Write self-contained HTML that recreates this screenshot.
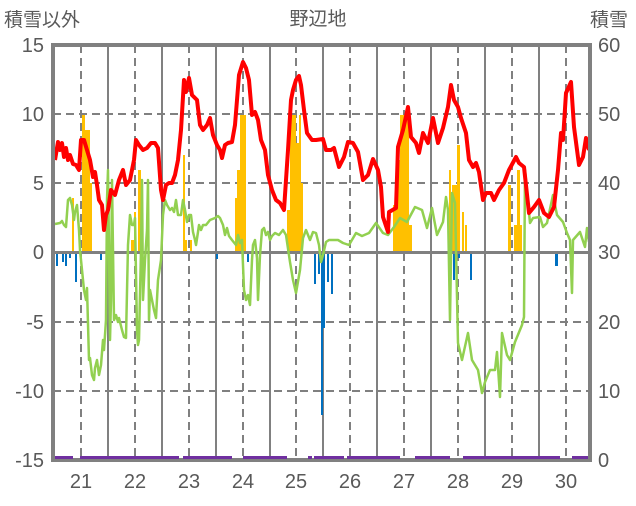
<!DOCTYPE html>
<html><head><meta charset="utf-8"><style>
body{margin:0;background:#fff;}
svg text{font-family:"Liberation Sans","Noto Sans CJK JP",sans-serif;fill:#595959;}
</style></head><body>
<svg width="636" height="501" viewBox="0 0 636 501" xmlns="http://www.w3.org/2000/svg">
<rect width="636" height="501" fill="#fff"/>
<g stroke="#808080" stroke-width="2" stroke-dasharray="8,5">
<line x1="53" y1="114" x2="590" y2="114"/><line x1="53" y1="183" x2="590" y2="183"/>
<line x1="53" y1="322" x2="590" y2="322"/><line x1="53" y1="391" x2="590" y2="391"/>
</g>
<g stroke="#808080" stroke-width="2" stroke-dasharray="8,5">
<line x1="81" y1="45" x2="81" y2="460"/><line x1="135" y1="45" x2="135" y2="460"/>
<line x1="189" y1="45" x2="189" y2="460"/><line x1="243" y1="45" x2="243" y2="460"/>
<line x1="296" y1="45" x2="296" y2="460"/><line x1="350" y1="45" x2="350" y2="460"/>
<line x1="404" y1="45" x2="404" y2="460"/><line x1="458" y1="45" x2="458" y2="460"/>
<line x1="512" y1="45" x2="512" y2="460"/><line x1="566" y1="45" x2="566" y2="460"/>
</g>
<g stroke="#808080" stroke-width="2">
<line x1="108" y1="45" x2="108" y2="460"/><line x1="162" y1="45" x2="162" y2="460"/>
<line x1="216" y1="45" x2="216" y2="460"/><line x1="270" y1="45" x2="270" y2="460"/>
<line x1="323" y1="45" x2="323" y2="460"/><line x1="377" y1="45" x2="377" y2="460"/>
<line x1="431" y1="45" x2="431" y2="460"/><line x1="485" y1="45" x2="485" y2="460"/>
<line x1="539" y1="45" x2="539" y2="460"/>
</g>
<g fill="#FFC000">
<rect x="72" y="198" width="2" height="54"/><rect x="82" y="115" width="3" height="137"/><rect x="85" y="130" width="3" height="122"/><rect x="88" y="130" width="2" height="122"/><rect x="90" y="183" width="2" height="69"/>
<rect x="131" y="240" width="3" height="12"/><rect x="134" y="212" width="2" height="40"/><rect x="138" y="170" width="3" height="82"/>
<rect x="183" y="155" width="2" height="97"/><rect x="185" y="240" width="2" height="12"/><rect x="190" y="240" width="2" height="12"/>
<rect x="235" y="198" width="2" height="54"/><rect x="237" y="170" width="3" height="82"/><rect x="240" y="115" width="6" height="137"/>
<rect x="287" y="210" width="3" height="42"/><rect x="290" y="115" width="6" height="137"/><rect x="296" y="143" width="3" height="109"/><rect x="299" y="115" width="2" height="137"/><rect x="301" y="183" width="2" height="69"/>
<rect x="393" y="205" width="4" height="47"/><rect x="397" y="160" width="3" height="92"/><rect x="400" y="115" width="9" height="137"/><rect x="409" y="225" width="3" height="27"/>
<rect x="449" y="170" width="2" height="82"/><rect x="452" y="185" width="2" height="67"/><rect x="454" y="185" width="3" height="67"/><rect x="457" y="145" width="3" height="107"/><rect x="462" y="212" width="2" height="40"/><rect x="465" y="225" width="2" height="27"/>
<rect x="508" y="185" width="3" height="67"/><rect x="514" y="225" width="3" height="27"/><rect x="517" y="170" width="3" height="82"/><rect x="520" y="225" width="2" height="27"/>
</g>
<g fill="#0070C0">
<rect x="56" y="252" width="2" height="14"/><rect x="62" y="252" width="2" height="10"/><rect x="65" y="252" width="2" height="14"/><rect x="69" y="252" width="2" height="6"/><rect x="75" y="252" width="2" height="30"/>
<rect x="100" y="252" width="2" height="8"/><rect x="216" y="252" width="2" height="7"/><rect x="247" y="252" width="2" height="10"/><rect x="256" y="252" width="2" height="6"/>
<rect x="314" y="252" width="2" height="32"/><rect x="318" y="252" width="2" height="22"/><rect x="321" y="252" width="2" height="163"/><rect x="323" y="252" width="2" height="76"/><rect x="327" y="252" width="2" height="30"/><rect x="331" y="252" width="2" height="42"/>
<rect x="453" y="252" width="2" height="28"/><rect x="458" y="252" width="2" height="6"/><rect x="470" y="252" width="2" height="28"/><rect x="555" y="252" width="3" height="14"/>
</g>
<line x1="53" y1="252.5" x2="590" y2="252.5" stroke="#808080" stroke-width="3"/>
<polyline fill="none" stroke="#92D050" stroke-width="2.5" stroke-linejoin="round" points="55,224 60,223 62,221 64,225 66,227 68,200 70,198 72,205 74,220 75,212 77,205 79,230 80,250 82,270 84,290 86,300 87,288 89,360 90,358 92,375 94,380 95,368 97,360 99,375 101,365 103,340 104,350 106,320 107,200 108,170 109,250 110,340 111,300 112,180 114,320 116,315 118,322 119,318 122,330 124,337 126,338 128,245 130,215 132,225 134,225 135,218 137,330 138,345 139,340 141,250 142,180 143,300 145,260 147,230 148,180 149,320 150,290 152,300 154,310 156,318 158,280 161,260 163,215 165,200 167,205 170,210 172,208 174,212 176,200 178,215 181,215 183,200 185,210 187,222 189,215 191,215 193,232 195,240 196,245 198,232 199,225 201,230 203,225 206,225 210,220 215,218 218,216 220,218 223,225 225,235 227,228 229,236 232,240 236,245 238,235 240,243 242,240 244,290 246,300 248,295 250,305 252,260 253,245 255,240 257,258 258,300 260,255 262,230 264,228 266,235 268,232 270,240 272,236 275,233 279,235 283,230 286,235 290,262 293,280 296,293 300,270 303,238 306,230 310,240 313,232 316,233 319,245 321,262 323,255 326,242 329,240 333,240 338,240 343,243 349,245 356,233 362,236 369,233 376,223 383,233 388,235 394,227 400,218 407,222 415,207 422,210 427,228 432,208 437,235 443,222 446,197 448,210 450,320 452,193 455,203 458,343 462,360 468,333 472,360 478,370 482,393 485,382 490,370 495,370 497,352 500,397 502,333 507,355 510,360 515,342 522,325 524,317 525,170 530,223 533,218 540,217 543,227 547,223 553,195 557,215 563,222 567,233 570,240 572,293 573,240 580,232 585,247 587,228 589,242"/>
<polyline fill="none" stroke="#FF0000" stroke-width="4" stroke-linejoin="round" points="55,160 58,142 60,150 62,143 64,157 66,148 68,160 70,155 73,164 76,165 79,170 81,140 84,140 87,150 90,160 93,177 95,172 97,185 99,200 102,205 104,230 106,215 108,210 111,190 115,195 119,180 123,170 126,185 130,180 134,160 136,140 139,145 143,150 147,148 151,143 155,143 158,148 161,190 163,200 166,185 169,183 172,183 175,175 178,160 181,130 184,80 186,92 189,78 192,95 197,100 200,125 203,130 207,125 210,118 213,135 217,145 220,150 222,158 225,145 228,143 232,142 235,125 239,75 243,62 246,68 249,80 252,115 255,112 258,120 261,140 265,150 268,175 272,190 276,200 280,203 284,210 288,150 291,100 293,90 296,80 299,76 301,85 304,110 307,133 312,140 316,140 323,139 326,150 331,150 334,148 339,167 344,157 348,142 353,143 358,152 363,180 368,175 373,159 378,170 381,187 383,217 388,232 389,212 396,208 398,147 403,130 408,107 411,137 416,143 419,153 423,133 428,143 433,118 438,143 443,128 448,107 451,85 454,100 458,107 461,118 466,133 469,160 473,167 476,163 479,172 483,200 486,193 491,193 494,200 499,190 504,183 509,170 516,157 519,163 524,167 529,213 534,207 539,200 544,213 549,217 554,207 558,170 561,133 563,140 566,93 571,82 574,127 579,165 583,157 586,138 589,150"/>
<rect x="53" y="45" width="537" height="415" fill="none" stroke="#808080" stroke-width="4"/>
<g stroke="#7030A0" stroke-width="3">
<line x1="55" y1="457.5" x2="73" y2="457.5"/><line x1="80" y1="457.5" x2="179" y2="457.5"/><line x1="183" y1="457.5" x2="232" y2="457.5"/>
<line x1="243" y1="457.5" x2="287" y2="457.5"/><line x1="308" y1="457.5" x2="312" y2="457.5"/><line x1="314" y1="457.5" x2="344" y2="457.5"/>
<line x1="347" y1="457.5" x2="400" y2="457.5"/><line x1="415" y1="457.5" x2="450" y2="457.5"/><line x1="463" y1="457.5" x2="560" y2="457.5"/><line x1="572" y1="457.5" x2="588" y2="457.5"/>
</g>
<g font-size="20" text-anchor="end">
<text x="44" y="52">15</text><text x="44" y="121">10</text><text x="44" y="190">5</text><text x="44" y="259">0</text>
<text x="44" y="329">-5</text><text x="44" y="398">-10</text><text x="44" y="467">-15</text>
</g>
<g font-size="20" text-anchor="start">
<text x="598" y="52">60</text><text x="598" y="121">50</text><text x="598" y="190">40</text><text x="598" y="259">30</text>
<text x="598" y="329">20</text><text x="598" y="398">10</text><text x="598" y="467">0</text>
</g>
<g font-size="20" text-anchor="middle">
<text x="81" y="488">21</text><text x="135" y="488">22</text><text x="189" y="488">23</text><text x="243" y="488">24</text><text x="296" y="488">25</text>
<text x="350" y="488">26</text><text x="404" y="488">27</text><text x="458" y="488">28</text><text x="512" y="488">29</text><text x="566" y="488">30</text>
</g>
<text x="4" y="26" font-size="19">積雪以外</text>
<text x="318" y="25" font-size="19" text-anchor="middle">野辺地</text>
<text x="590" y="26" font-size="19">積雪</text>
</svg>
</body></html>
